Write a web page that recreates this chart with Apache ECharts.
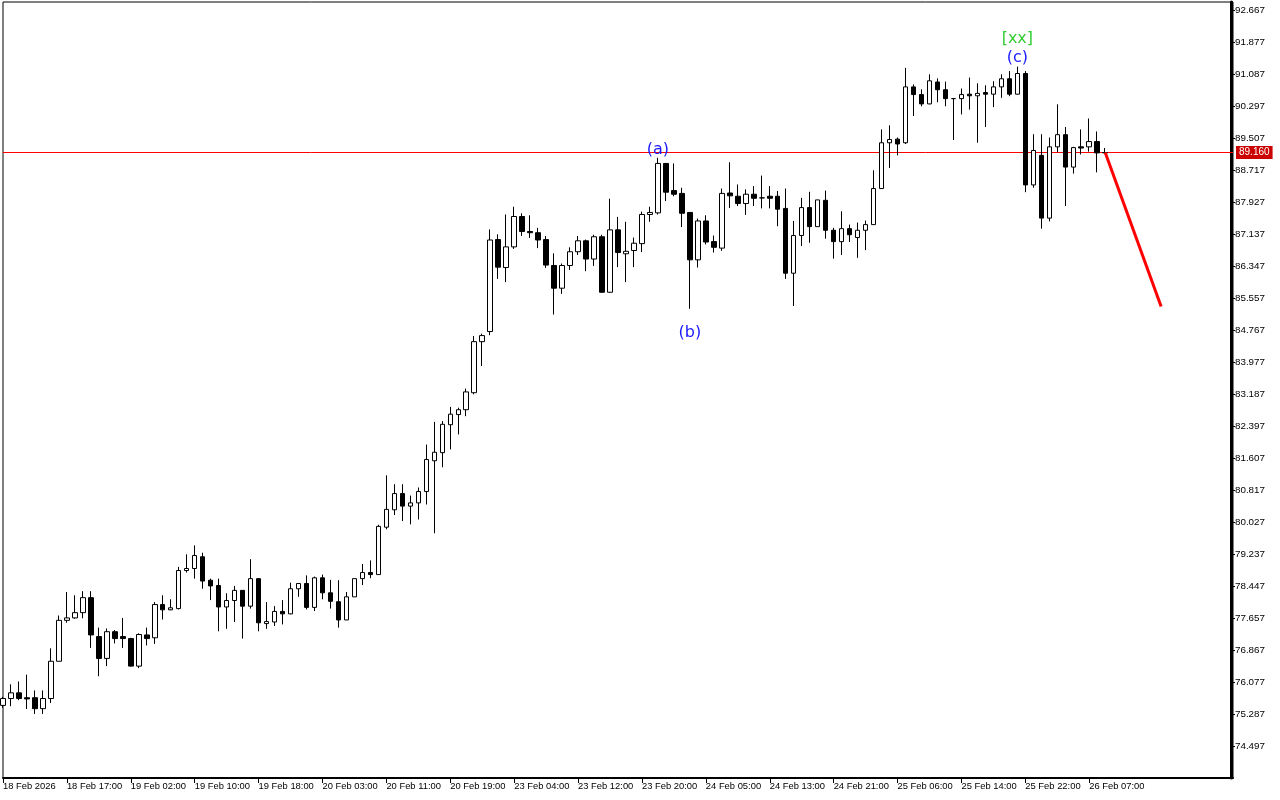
<!DOCTYPE html>
<html>
<head>
<meta charset="utf-8">
<script src="https://cdn.jsdelivr.net/npm/echarts@6/dist/echarts.min.js"></script>
<style>
html,body{margin:0;padding:0;background:#fff;}
#chart{width:1280px;height:800px;}
</style>
</head>
<body>
<div id="chart"></div>
<script>
// ---- data (hourly bars, index 0 = 18 Feb 09:00) ----
const opens = [75.51,75.68,75.82,75.70,75.70,75.43,75.68,76.60,77.61,77.67,77.80,78.17,77.21,76.67,77.33,77.21,77.16,76.48,77.25,77.18,
78.00,77.87,77.90,78.84,78.89,79.18,78.60,78.47,77.94,78.10,78.35,77.96,78.64,77.53,77.57,77.83,77.77,78.39,78.52,77.93,
78.66,78.29,78.07,77.62,78.19,78.64,78.79,78.74,79.91,80.34,80.74,80.43,80.51,80.79,81.55,81.75,82.44,82.69,82.81,83.23,
84.49,84.74,87.01,86.32,86.83,87.58,87.21,87.18,87.01,86.37,85.81,86.37,86.71,86.98,86.53,87.08,85.71,87.25,86.66,86.74,
86.91,87.63,87.67,88.89,88.22,88.15,87.68,86.51,87.47,86.96,86.80,88.16,88.08,87.90,88.13,88.04,88.08,88.08,87.78,86.18,
87.11,87.80,87.33,87.98,87.24,86.96,87.28,87.06,87.24,87.38,88.27,89.40,89.49,89.40,90.78,90.59,90.36,90.90,90.71,90.49,
90.49,90.60,90.56,90.64,90.60,90.78,90.98,90.60,91.11,88.36,89.09,87.54,89.30,89.60,88.80,89.30,89.30,89.43,89.15];
const closes = [75.68,75.82,75.68,75.67,75.43,75.68,76.60,77.61,77.67,77.80,78.17,77.25,76.67,77.33,77.16,77.16,76.48,77.26,77.16,78.00,
77.87,77.92,78.84,78.89,79.21,78.58,78.46,77.94,78.10,78.35,77.96,78.64,77.55,77.58,77.83,77.77,78.39,78.52,77.93,78.66,
78.29,78.08,77.62,78.19,78.64,78.79,78.74,79.93,80.35,80.74,80.43,80.51,80.79,81.58,81.76,82.45,82.70,82.81,83.25,84.49,
84.64,87.00,86.33,86.83,87.58,87.21,87.18,87.00,86.38,85.81,86.37,86.71,86.98,86.53,87.08,85.71,87.25,86.69,86.72,86.92,
87.63,87.68,88.89,88.18,88.13,87.66,86.51,87.47,86.95,86.82,88.15,88.09,87.90,88.13,88.03,88.04,88.03,87.76,86.18,87.11,
87.80,87.33,87.99,87.24,86.96,87.28,87.13,87.24,87.38,88.27,89.40,89.48,89.37,90.78,90.59,90.36,90.93,90.71,90.49,90.49,
90.59,90.56,90.62,90.60,90.78,90.98,90.60,91.11,88.36,89.21,87.54,89.30,89.60,88.80,89.28,89.27,89.43,89.15,89.16];
const lows = [75.45,75.49,75.64,75.42,75.30,75.30,75.57,76.60,77.55,77.65,77.66,76.93,76.23,76.48,77.04,76.93,76.47,76.43,76.99,77.03,
77.63,77.86,77.88,78.79,78.64,78.39,78.11,77.34,77.40,77.57,77.16,77.90,77.34,77.40,77.47,77.51,77.76,78.19,77.88,77.84,
78.13,77.90,77.43,77.62,78.19,78.48,78.65,78.74,79.86,80.21,80.06,79.98,80.10,80.47,79.76,81.39,81.83,82.20,82.65,83.19,
83.89,84.65,86.04,85.96,86.78,87.10,87.05,86.80,86.31,85.16,85.67,86.26,86.63,86.23,86.36,85.70,85.70,86.33,85.96,86.33,
86.70,87.45,87.63,87.96,88.08,87.32,85.30,86.32,86.89,86.69,86.73,87.79,87.84,87.62,87.84,87.78,87.78,87.34,86.04,85.37,
86.85,86.93,87.33,87.03,86.54,86.63,86.95,86.56,86.75,87.38,88.27,88.78,89.09,89.37,90.06,90.30,90.35,90.40,90.30,89.47,
90.10,90.22,89.40,89.79,90.28,90.51,90.55,90.59,88.18,88.29,87.28,87.46,89.17,87.84,88.64,89.11,89.18,88.67,89.13];
const highs = [75.72,76.03,76.10,76.27,75.88,75.88,76.92,77.73,78.31,78.23,78.33,78.33,77.43,77.41,77.37,77.67,77.18,77.29,77.43,78.06,
78.23,78.13,78.93,79.24,79.46,79.28,78.64,78.64,78.28,78.46,78.35,79.12,78.64,78.06,77.96,78.11,78.54,78.52,78.72,78.69,
78.74,78.61,78.60,78.31,78.64,79.00,79.09,79.97,81.19,80.97,80.97,80.69,80.89,81.95,82.51,82.53,82.88,82.86,83.33,84.63,
84.69,87.26,87.14,87.63,87.82,87.66,87.61,87.30,87.10,86.67,86.42,86.82,87.10,87.01,87.13,87.13,88.02,87.57,87.45,87.06,
87.70,87.82,89.03,88.89,88.89,88.29,87.68,87.53,87.61,87.11,88.27,88.92,88.37,88.25,88.33,88.59,88.33,88.21,88.27,87.47,
88.04,88.19,87.99,88.22,87.30,87.71,87.38,87.43,87.48,88.72,89.73,89.83,89.53,91.25,90.84,90.72,91.09,90.99,90.91,90.50,
90.74,91.01,90.87,90.82,90.92,91.09,91.17,91.28,91.17,89.61,89.61,89.53,90.35,89.79,89.30,89.73,90.00,89.68,89.27];

const timeLabels = ['18 Feb 2026','18 Feb 17:00','19 Feb 02:00','19 Feb 10:00','19 Feb 18:00','20 Feb 03:00',
'20 Feb 11:00','20 Feb 19:00','23 Feb 04:00','23 Feb 12:00','23 Feb 20:00','24 Feb 05:00','24 Feb 13:00',
'24 Feb 21:00','25 Feb 06:00','25 Feb 14:00','25 Feb 22:00','26 Feb 07:00'];
const priceTicks = [74.497,75.287,76.077,76.867,77.657,78.447,79.237,80.027,80.817,81.607,82.397,83.187,
83.977,84.767,85.557,86.347,87.137,87.927,88.717,89.507,90.297,91.087,91.877,92.667];
const currentPrice = 89.160;
const forecastX = [138, 145];
const forecastY = [89.16, 85.36];
const waveLabels = ['(a)','(b)','(c)','[xx]'];
const waveX = [82, 86, 127, 127];
const waveY = [89.235, 84.717, 91.507, 91.976];
const waveColors = ['#1a1aff','#1a1aff','#1a1aff','#33cc33'];

// ---- build ----
const totalSlots = 155;
const cats = [];
for (let i = 0; i < totalSlots; i++) cats.push(String(i));
const ohlc = opens.map((o, i) => [o, closes[i], lows[i], highs[i]]);
const showEvery = (i) => i % 8 === 0 && i / 8 < timeLabels.length;

const chart = echarts.init(document.getElementById('chart'), null, {renderer: 'canvas'});
const font = 'Liberation Sans';
chart.setOption({
  animation: false,
  backgroundColor: '#ffffff',
  grid: {left: 2, top: 2, width: 1231, height: 776, show: true, borderColor: '#000', borderWidth: 1, backgroundColor: '#fff'},
  xAxis: {
    type: 'category', data: cats, boundaryGap: false,
    axisLine: {show: true, lineStyle: {color: '#000', width: 2}},
    axisTick: {show: true, interval: (i) => showEvery(i), length: 5, lineStyle: {color: '#000'}},
    axisLabel: {interval: (i) => showEvery(i), formatter: (v, i) => timeLabels[i / 8] || '',
      align: 'left', margin: 4, color: '#000', fontFamily: font, fontSize: 9.4},
    splitLine: {show: false}
  },
  yAxis: {
    type: 'value', position: 'right', min: 73.718, max: 92.8755, offset: -2, scale: true,
    axisLine: {show: true, lineStyle: {color: '#000', width: 3}},
    axisTick: {show: true, customValues: priceTicks, length: 4, lineStyle: {color: '#000'}},
    axisLabel: {customValues: priceTicks, formatter: (v) => v.toFixed(3), margin: 4,
      color: '#000', fontFamily: font, fontSize: 9.8},
    splitLine: {show: false}
  },
  series: [{
    type: 'line', data: [[0, currentPrice], [totalSlots - 1, currentPrice]], symbol: 'none',
    color: '#ff0000', lineStyle: {color: '#ff0000', width: 1}, silent: true, z: 1,
    endLabel: {show: true, formatter: currentPrice.toFixed(3), color: '#fff',
      backgroundColor: '#cc0000', padding: [2, 3, 1, 3], distance: 3, fontFamily: font, fontSize: 10}
  }, {
    type: 'candlestick', data: ohlc, barWidth: 5, clip: true, z: 2,
    itemStyle: {color: '#ffffff', color0: '#000000', borderColor: '#000000', borderColor0: '#000000',
      borderColorDoji: '#000000', borderWidth: 1},
    markPoint: {
      silent: true, symbol: 'circle', symbolSize: 1, itemStyle: {color: 'rgba(0,0,0,0)'},
      data: waveLabels.map((t, i) => ({
        coord: [waveX[i], waveY[i]],
        label: {show: true, position: 'inside', formatter: t, color: waveColors[i],
          fontFamily: 'DejaVu Sans', fontSize: 16}
      }))
    }
  }, {
    type: 'line', data: forecastX.map((x, i) => [x, forecastY[i]]), symbol: 'none',
    color: '#ff0000', lineStyle: {color: '#ff0000', width: 3}, silent: true, z: 3
  }]
});
</script>
</body>
</html>
